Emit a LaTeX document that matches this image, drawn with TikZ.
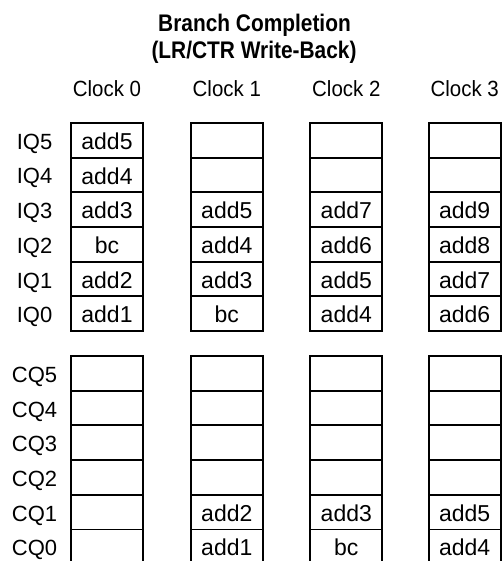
\documentclass[tikz,border=0pt]{standalone}
\usepackage{fontspec}
\setmainfont{Liberation Sans}
\begin{document}
\begin{tikzpicture}[x=1pt,y=-1pt,
  txt/.style={font=\fontsize{22}{26}\selectfont},
  cell/.style={font=\fontsize{23}{27}\selectfont,draw,line width=1.7pt,minimum width=72pt,minimum height=34.67pt,
    inner sep=0pt,text height=18.5pt,text depth=0pt},
  rowlab/.style={txt,inner sep=0pt,minimum height=34.67pt,text height=18pt,text depth=0pt},
  clk/.style={txt,anchor=base,inner sep=0pt,xscale=0.93},
  ttl/.style={font=\bfseries\fontsize{24}{27}\selectfont,anchor=base,inner sep=0pt,xscale=0.87}]
\useasboundingbox (0,0) rectangle (502,561);
% title
\node[ttl] (t1) at (254.5,31.7) {Branch Completion};
\node[ttl] (t2) at (254,59) {(LR/CTR Write-Back)};
% clock labels
\node[clk] (k0) at (107,96.7) {Clock 0};
\node[clk] (k1) at (226.8,96.7) {Clock 1};
\node[clk] (k2) at (346.3,96.7) {Clock 2};
\node[clk] (k3) at (464.7,96.7) {Clock 3};
% row labels
\foreach \k/\n in {0/5,1/4,2/3,3/2,4/1,5/0}{
  \node[rowlab] (liq\n) at (34.5,{140.33+34.67*\k}) {IQ\n};
  \node[rowlab] (lcq\n) at (34.5,{373.33+34.67*\k}) {CQ\n};
}
% IQ cells
\foreach \k/\t in {0/add5,1/add4,2/add3,3/bc,4/add2,5/add1}
  \node[cell] (a0\k) at (107,{140.33+34.67*\k}) {\t};
\foreach \k/\t in {0/{},1/{},2/add5,3/add4,4/add3,5/bc}
  \node[cell] (a1\k) at (226.8,{140.33+34.67*\k}) {\t};
\foreach \k/\t in {0/{},1/{},2/add7,3/add6,4/add5,5/add4}
  \node[cell] (a2\k) at (346.3,{140.33+34.67*\k}) {\t};
\foreach \k/\t in {0/{},1/{},2/add9,3/add8,4/add7,5/add6}
  \node[cell] (a3\k) at (464.7,{140.33+34.67*\k}) {\t};
% CQ cells
\foreach \k/\t in {0/{},1/{},2/{},3/{},4/{},5/{}}
  \node[cell] (b0\k) at (107,{373.33+34.67*\k}) {\t};
\foreach \k/\t in {0/{},1/{},2/{},3/{},4/add2,5/add1}
  \node[cell] (b1\k) at (226.8,{373.33+34.67*\k}) {\t};
\foreach \k/\t in {0/{},1/{},2/{},3/{},4/add3,5/bc}
  \node[cell] (b2\k) at (346.3,{373.33+34.67*\k}) {\t};
\foreach \k/\t in {0/{},1/{},2/{},3/{},4/add5,5/add4}
  \node[cell] (b3\k) at (464.7,{373.33+34.67*\k}) {\t};
\end{tikzpicture}
\end{document}
